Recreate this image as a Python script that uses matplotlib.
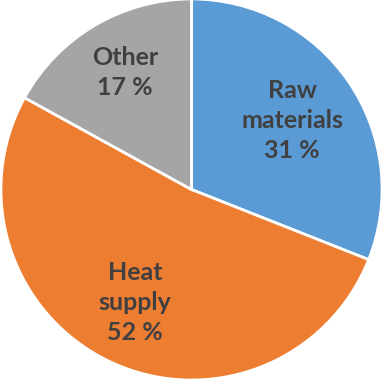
import matplotlib
matplotlib.use('Agg')
import matplotlib.pyplot as plt

labels = ['Raw\nmaterials', 'Heat\nsupply', 'Other']
shares = [31, 52, 17]
colors = ['#5B9BD5', '#ED7D31', '#A5A5A5']
# label anchor positions (axes data units, pie radius ~1)
label_pos = [(0.525, 0.36), (-0.295, -0.59), (-0.347, 0.61)]

fig = plt.figure(figsize=(3.83, 3.79), dpi=100)
ax = fig.add_axes([0, 0, 1, 1])
ax.pie(shares, colors=colors, startangle=90, counterclock=False, radius=0.995,
       wedgeprops={'edgecolor': 'white', 'linewidth': 2})
for lab, val, (x, y) in zip(labels, shares, label_pos):
    ax.text(x, y, f'{lab}\n{val} %', ha='center', va='center', fontsize=18,
            fontweight='bold', family='Lato', color='#404040', linespacing=1.35)
ax.set_xlim(-1.0, 1.0)
ax.set_ylim(-379 / 383, 379 / 383)
ax.set_aspect('equal')
ax.axis('off')
fig.savefig('out.png', dpi=100)
